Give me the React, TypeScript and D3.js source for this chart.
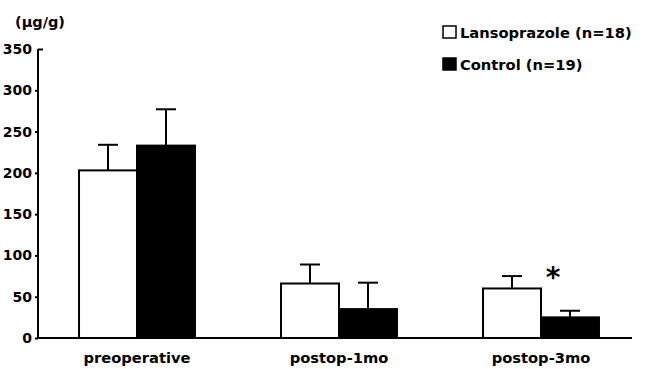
import { axisLeft, scaleBand, scaleLinear, select } from "d3";
import { useEffect, useRef } from "react";

const categories = ["preoperative", "postop-1mo", "postop-3mo"];
const seriesNames = ["Lansoprazole (n=18)", "Control (n=19)"];
const lansoprazoleMean = [203, 66, 60];
const lansoprazoleSD = [31, 23, 15];
const controlMean = [233, 35, 25];
const controlSD = [44, 32, 8];
const yTicks = [0, 50, 100, 150, 200, 250, 300, 350];
const significant = [false, false, true];

const fills = ["#ffffff", "#000000"];
const font = "'DejaVu Sans', Verdana, sans-serif";

export default function App() {
  const svgRef = useRef<SVGSVGElement | null>(null);

  useEffect(() => {
    document.body.style.margin = "0";
    if (!svgRef.current) return;
    const svg = select(svgRef.current);
    svg.selectAll("*").remove();

    const yScale = scaleLinear().domain([0, 350]).range([338, 49]);
    const x0 = scaleBand<string>()
      .domain(categories)
      .range([36, 642])
      .paddingInner(0.426)
      .paddingOuter(0.213);
    const x1 = scaleBand<number>().domain([0, 1]).range([0, x0.bandwidth()]);

    const rows = categories.map((c, i) => ({
      cat: c,
      values: [
        { s: 0, mean: lansoprazoleMean[i], sd: lansoprazoleSD[i] },
        { s: 1, mean: controlMean[i], sd: controlSD[i] },
      ],
    }));

    // error bars (upper whisker only), drawn under the bars
    const groups = svg
      .selectAll("g.cat")
      .data(rows)
      .join("g")
      .attr("class", "cat")
      .attr("transform", (d) => `translate(${x0(d.cat)},0)`);

    groups
      .selectAll("line.err")
      .data((d) => d.values)
      .join("line")
      .attr("class", "err")
      .attr("x1", (d) => (x1(d.s) ?? 0) + x1.bandwidth() / 2)
      .attr("x2", (d) => (x1(d.s) ?? 0) + x1.bandwidth() / 2)
      .attr("y1", (d) => yScale(d.mean))
      .attr("y2", (d) => yScale(d.mean + d.sd))
      .attr("stroke", "#000")
      .attr("stroke-width", 2);

    groups
      .selectAll("line.cap")
      .data((d) => d.values)
      .join("line")
      .attr("class", "cap")
      .attr("x1", (d) => (x1(d.s) ?? 0) + x1.bandwidth() / 2 - 10)
      .attr("x2", (d) => (x1(d.s) ?? 0) + x1.bandwidth() / 2 + 10)
      .attr("y1", (d) => yScale(d.mean + d.sd))
      .attr("y2", (d) => yScale(d.mean + d.sd))
      .attr("stroke", "#000")
      .attr("stroke-width", 2);

    groups
      .selectAll("rect")
      .data((d) => d.values)
      .join("rect")
      .attr("x", (d) => x1(d.s) ?? 0)
      .attr("y", (d) => yScale(d.mean))
      .attr("width", x1.bandwidth())
      .attr("height", (d) => yScale(0) - yScale(d.mean))
      .attr("fill", (d) => fills[d.s])
      .attr("stroke", "#000")
      .attr("stroke-width", 2);

    // significance marker
    svg
      .append("g")
      .selectAll("text")
      .data(rows.filter((_, i) => significant[i]))
      .join("text")
      .attr("x", (d) => (x0(d.cat) ?? 0) + x1.bandwidth() + 12)
      .attr("y", (d) => yScale(d.values[1].mean + d.values[1].sd) - 24)
      .attr("text-anchor", "middle")
      .attr("font-family", font)
      .attr("font-size", 28)
      .attr("font-weight", "bold")
      .text("*");

    // y axis
    const yAxis = axisLeft(yScale).tickValues(yTicks).tickSize(3).tickPadding(3);
    const yg = svg.append("g").attr("transform", "translate(38,0)").call(yAxis);
    yg.select(".domain").attr("stroke-width", 2).attr("d", `M0,${yScale(350)}V${yScale(0)}`);
    yg.selectAll(".tick line").attr("stroke-width", 2);
    yg.selectAll<SVGLineElement, number>(".tick line")
      .filter((d) => d === 350)
      .attr("x2", 5);
    yg.selectAll("text")
      .attr("font-family", font)
      .attr("font-size", 14)
      .attr("font-weight", "bold")
      .attr("fill", "#000");

    // x axis baseline
    svg
      .append("line")
      .attr("x1", 37)
      .attr("x2", 632)
      .attr("y1", yScale(0))
      .attr("y2", yScale(0))
      .attr("stroke", "#000")
      .attr("stroke-width", 2);

    svg
      .append("g")
      .selectAll("text")
      .data(categories)
      .join("text")
      .attr("x", (d) => (x0(d) ?? 0) + x0.bandwidth() / 2)
      .attr("y", 363)
      .attr("text-anchor", "middle")
      .attr("font-family", font)
      .attr("font-size", 14.7)
      .attr("font-weight", "bold")
      .text((d) => d);

    svg
      .append("text")
      .attr("x", 15)
      .attr("y", 27)
      .attr("font-family", font)
      .attr("font-size", 14.5)
      .attr("font-weight", "bold")
      .text("(µg/g)");

    // legend
    const legend = svg
      .append("g")
      .selectAll("g")
      .data(seriesNames)
      .join("g")
      .attr("transform", (_, i) => `translate(443,${26 + i * 32})`);
    legend
      .append("rect")
      .attr("x", 0)
      .attr("y", 0)
      .attr("width", 13)
      .attr("height", 12)
      .attr("fill", (_, i) => fills[i])
      .attr("stroke", "#000")
      .attr("stroke-width", 1.5);
    legend
      .append("text")
      .attr("x", 17)
      .attr("y", 11.5)
      .attr("font-family", font)
      .attr("font-size", 14.7)
      .attr("font-weight", "bold")
      .text((d) => d);
  }, []);

  return (
    <svg
      ref={svgRef}
      width={649}
      height={369}
      style={{ display: "block", background: "#fff" }}
      role="img"
      aria-label="Bar chart of values by period"
    />
  );
}
